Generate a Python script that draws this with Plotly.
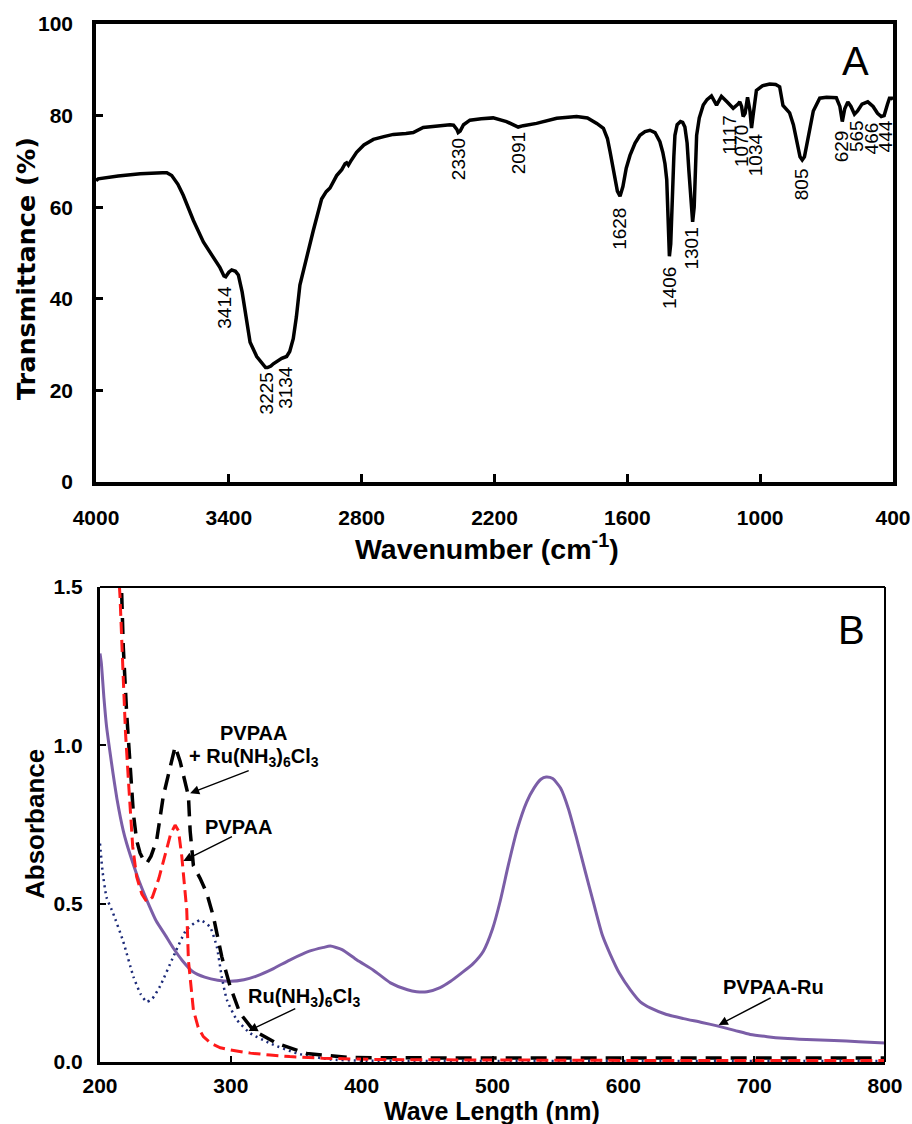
import plotly.graph_objects as go

# ---------------- Panel A: FTIR ----------------
ir_wavenumber = [4000, 3990, 3900, 3800, 3700, 3680, 3658, 3630, 3606, 3580, 3560, 3515, 3470, 3440, 3422, 3414,
                 3400, 3387, 3370, 3357, 3340, 3327, 3304, 3274, 3250, 3234, 3225, 3210, 3199, 3180, 3161, 3139,
                 3125, 3109, 3095, 3079, 3049, 3019, 2981, 2960, 2943, 2913, 2890, 2875, 2868, 2860, 2850, 2823,
                 2790, 2747, 2700, 2657, 2600, 2567, 2522, 2470, 2401, 2385, 2370, 2364, 2355, 2340, 2311, 2260,
                 2206, 2146, 2110, 2093, 2070, 2010, 1919, 1829, 1780, 1738, 1708, 1690, 1678, 1660, 1645, 1633,
                 1620, 1605, 1588, 1565, 1543, 1520, 1498, 1475, 1453, 1440, 1430, 1422, 1415, 1410, 1404, 1398,
                 1390, 1385, 1375, 1360, 1350, 1340, 1330, 1322, 1312, 1305, 1298, 1292, 1287, 1275, 1257, 1240,
                 1220, 1197, 1175, 1150, 1122, 1100, 1092, 1084, 1077, 1068, 1057, 1046, 1039, 1032, 1017, 990,
                 957, 930, 912, 897, 885, 867, 850, 836, 820, 810, 800, 790, 776, 760, 731, 700, 656, 640, 629,
                 618, 604, 590, 574, 560, 540, 514, 490, 470, 453, 440, 425, 416, 405, 400]
ir_transmittance = [65.8, 66.2, 66.8, 67.3, 67.5, 67.5, 66.9, 65.0, 62.6, 59.5, 57.1, 52.4, 49.0, 46.8, 45.0, 44.8,
                    45.8, 46.3, 46.0, 45.2, 41.5, 37.6, 30.5, 27.4, 26.0, 25.0, 25.0, 25.3, 25.8, 26.5, 27.0, 27.4,
                    28.5, 31.3, 36.0, 43.0, 49.3, 54.8, 61.8, 63.4, 64.2, 66.9, 68.2, 69.5, 69.7, 69.2, 70.0, 72.0,
                    73.6, 74.8, 75.4, 75.9, 76.1, 76.3, 77.4, 77.7, 78.0, 77.9, 77.0, 76.3, 76.6, 78.0, 79.0, 79.3,
                    79.5, 78.7, 77.8, 77.5, 77.8, 78.3, 79.4, 79.8, 79.5, 78.3, 77.2, 75.0, 72.1, 67.0, 63.5, 62.4,
                    64.5, 68.5, 71.3, 74.0, 75.7, 76.5, 76.8, 76.3, 74.3, 72.0, 69.5, 66.0, 58.0, 49.3, 52.0, 62.0,
                    71.0, 75.7, 78.0, 78.7, 78.5, 77.5, 74.0, 68.0, 60.0, 56.8, 60.0, 68.0, 75.7, 79.5, 82.3, 83.5,
                    84.3, 82.3, 84.2, 83.0, 81.6, 82.5, 83.0, 82.0, 79.8, 80.5, 84.0, 81.0, 77.3, 80.0, 85.5, 86.5,
                    86.9, 86.8, 86.3, 82.2, 81.6, 80.6, 78.0, 74.4, 71.0, 70.3, 71.0, 73.5, 77.5, 81.0, 83.8, 84.0,
                    83.9, 82.0, 78.7, 81.5, 83.0, 82.0, 80.3, 81.0, 82.5, 83.0, 82.0, 80.5, 79.8, 80.0, 82.5, 83.8,
                    83.8, 83.5]
ir_xticks = [4000, 3400, 2800, 2200, 1600, 1000, 400]
ir_yticks = [0, 20, 40, 60, 80, 100]

# peak labels: text, x position (cm-1), y position of label top (%T)
peak_labels = ["3414", "3225", "3134", "2330", "2091", "1628", "1406", "1301", "1117", "1070", "1034",
               "805", "629", "565", "466", "444"]
peak_label_x = [3417, 3229, 3142, 2365, 2094, 1633, 1407, 1310, 1137, 1084, 1023, 812, 631, 564, 496, 436]
peak_label_y = [43.2, 24.3, 25.9, 75.5, 76.8, 60.3, 47.4, 55.9, 80.5, 78.3, 76.5, 68.9, 77.2, 79.4, 78.9, 79.4]

# ---------------- Panel B: UV-vis ----------------
ru_pvpaa_wl = [200, 201, 203, 205, 207.6, 210, 213, 217.8, 220.4, 225, 230, 238, 243, 250, 256, 263, 271, 280, 290,
               299.5, 310, 320, 332.6, 345, 360, 371, 376, 385, 396.4, 409, 422, 435, 442, 450, 460, 468, 476, 485,
               493, 500, 506, 512, 519, 526, 531.7, 537, 541, 546, 552, 558, 564.7, 571, 577.4, 584, 590, 597,
               605.5, 613, 621, 633, 646, 660, 671.7, 685, 697, 710, 722.6, 740, 761, 780, 800]
ru_pvpaa_abs = [1.29, 1.26, 1.15, 1.06, 0.98, 0.91, 0.83, 0.73, 0.69, 0.63, 0.57, 0.49, 0.445, 0.40, 0.36, 0.32,
                0.285, 0.268, 0.258, 0.255, 0.26, 0.272, 0.295, 0.322, 0.35, 0.362, 0.366, 0.355, 0.322, 0.29, 0.25,
                0.228, 0.222, 0.222, 0.235, 0.255, 0.28, 0.31, 0.35, 0.42, 0.51, 0.62, 0.736, 0.82, 0.865, 0.893,
                0.90, 0.895, 0.865, 0.80, 0.70, 0.60, 0.50, 0.40, 0.34, 0.28, 0.227, 0.19, 0.17, 0.15, 0.137, 0.125,
                0.114, 0.10, 0.087, 0.08, 0.075, 0.071, 0.068, 0.064, 0.06]

mix_wl = [216, 217.8, 220.4, 223, 225.5, 228, 230.6, 233, 235.7, 239, 243.3, 248.4, 253.5, 257.4, 261.2, 265,
          267.6, 268.9, 271.4, 276.5, 281.6, 286.7, 293.1, 299.5, 307, 317.3, 335, 358, 391, 450, 550, 650, 800]
mix_abs = [1.56, 1.31, 1.10, 0.94, 0.785, 0.70, 0.66, 0.64, 0.627, 0.65, 0.70, 0.84, 0.93, 0.996, 0.95, 0.89,
           0.84, 0.73, 0.62, 0.58, 0.533, 0.459, 0.332, 0.238, 0.154, 0.10, 0.059, 0.027, 0.014, 0.013, 0.013,
           0.013, 0.013]

pvpaa_wl = [214, 215.3, 217.8, 219.5, 221.7, 225, 228, 232, 235.7, 240, 245, 250, 254, 257.4, 260, 262.5, 264.5,
            266.3, 267.6, 269.5, 271.4, 275, 279, 285, 292, 299.5, 315, 330, 345, 370, 409, 450, 500, 600, 700, 800]
pvpaa_abs = [1.56, 1.47, 1.21, 1.04, 0.89, 0.68, 0.585, 0.53, 0.506, 0.52, 0.58, 0.66, 0.72, 0.748, 0.73, 0.65,
             0.56, 0.48, 0.32, 0.23, 0.164, 0.11, 0.08, 0.058, 0.045, 0.038, 0.028, 0.022, 0.017, 0.012, 0.008,
             0.007, 0.006, 0.005, 0.005, 0.005]

ru_wl = [200, 202, 205, 210, 217.8, 225.5, 231, 235.7, 240, 246, 256, 266, 276.5, 284, 289.3, 293, 297, 304.6,
         314.8, 330, 350.5, 376, 400, 500, 600, 700, 800]
ru_abs = [0.69, 0.60, 0.52, 0.47, 0.38, 0.27, 0.215, 0.19, 0.20, 0.24, 0.332, 0.417, 0.448, 0.427, 0.364, 0.27,
          0.196, 0.133, 0.091, 0.059, 0.027, 0.008, 0.004, 0.003, 0.003, 0.003, 0.003]

uv_xticks = [200, 300, 400, 500, 600, 700, 800]
uv_yticks = [0.0, 0.5, 1.0, 1.5]

W, H = 912, 1124


def px(x):
    return x / W


def py(y):
    return 1 - y / H


A_x = [px(96), px(893)]
A_y = [py(482), py(24)]
B_x = [px(100), px(885)]
B_y = [py(1062), py(587)]

fig = go.Figure()

fig.add_trace(go.Scatter(x=ir_wavenumber, y=ir_transmittance, mode="lines",
                         line=dict(color="black", width=3.5), xaxis="x", yaxis="y", showlegend=False))

fig.add_trace(go.Scatter(x=ru_pvpaa_wl, y=ru_pvpaa_abs, mode="lines", name="PVPAA-Ru",
                         line=dict(color="#7b5ea7", width=3, shape="spline", smoothing=0.6),
                         xaxis="x2", yaxis="y2", showlegend=False))
fig.add_trace(go.Scatter(x=ru_wl, y=ru_abs, mode="lines", name="Ru(NH3)6Cl3",
                         line=dict(color="#1c2a78", width=2.5, dash="2px,4px", shape="spline", smoothing=0.5),
                         xaxis="x2", yaxis="y2", showlegend=False))
fig.add_trace(go.Scatter(x=mix_wl, y=mix_abs, mode="lines", name="PVPAA + Ru(NH3)6Cl3",
                         line=dict(color="black", width=3.5, dash="16px,9px"), xaxis="x2", yaxis="y2", showlegend=False))
fig.add_trace(go.Scatter(x=pvpaa_wl, y=pvpaa_abs, mode="lines", name="PVPAA",
                         line=dict(color="#ff1a1a", width=3, dash="12px,6px"), xaxis="x2", yaxis="y2", showlegend=False))

tickA = dict(family="Arial, Liberation Sans", size=21, color="black", weight="bold")
tickB = dict(family="Arial, Liberation Sans", size=21, color="black", weight="bold")

fig.update_layout(
    width=W, height=H, margin=dict(l=0, r=0, t=0, b=0, autoexpand=False),
    paper_bgcolor="white", plot_bgcolor="white", showlegend=False,
    xaxis=dict(domain=A_x, anchor="y", range=[4000, 400], tickvals=ir_xticks, ticks="inside", ticklen=8,
               tickwidth=2.5, tickcolor="black", showline=True, linewidth=3.5, linecolor="black", mirror=True,
               showgrid=False, zeroline=False, tickfont=tickA, ticklabelstandoff=14, automargin=False),
    yaxis=dict(domain=A_y, anchor="x", range=[0, 100], tickvals=ir_yticks, ticks="inside", ticklen=7,
               tickwidth=2.5, tickcolor="black", showline=True, linewidth=3.5, linecolor="black", mirror=True,
               showgrid=False, zeroline=False, tickfont=tickA, ticklabelstandoff=15, automargin=False),
    xaxis2=dict(domain=B_x, anchor="y2", range=[200, 800], tickvals=uv_xticks, ticks="inside", ticklen=6,
                tickwidth=2, tickcolor="black", showline=True, linewidth=3, linecolor="black",
                showgrid=False, zeroline=False, tickfont=tickB, ticklabelstandoff=3, automargin=False),
    yaxis2=dict(domain=B_y, anchor="x2", range=[0, 1.5], tickvals=uv_yticks, tickformat=".1f", ticks="inside",
                ticklen=6, tickwidth=2, tickcolor="black", showline=True, linewidth=3, linecolor="black",
                showgrid=False, zeroline=False, tickfont=tickB, ticklabelstandoff=10, automargin=False),
)

# panel B thin top/right frame
fig.add_shape(type="line", xref="x2 domain", yref="y2 domain", x0=0, x1=1, y0=1, y1=1,
              line=dict(color="black", width=2))
fig.add_shape(type="line", xref="x2 domain", yref="y2 domain", x0=1, x1=1, y0=0, y1=1,
              line=dict(color="black", width=2))

ann = []
# axis titles
ann.append(dict(text="<b>Transmittance (%)</b>", xref="paper", yref="paper", x=px(26), y=py(269),
                textangle=-90, showarrow=False, xanchor="center", yanchor="middle",
                font=dict(family="DejaVu Sans", size=25.5, color="black")))
ann.append(dict(text="<b>Wavenumber (cm<sup>-1</sup>)</b>", xref="paper", yref="paper", x=px(487), y=py(547),
                showarrow=False, xanchor="center", yanchor="middle",
                font=dict(family="Arial, Liberation Sans", size=28.5, color="black")))
ann.append(dict(text="<b>Absorbance</b>", xref="paper", yref="paper", x=px(35), y=py(824),
                textangle=-90, showarrow=False, xanchor="center", yanchor="middle",
                font=dict(family="Arial, Liberation Sans", size=26, color="black")))
ann.append(dict(text="<b>Wave Length (nm)</b>", xref="paper", yref="paper", x=px(492), y=py(1111),
                showarrow=False, xanchor="center", yanchor="middle",
                font=dict(family="Arial, Liberation Sans", size=25, color="black")))
# panel letters
ann.append(dict(text="A", xref="paper", yref="paper", x=px(855), y=py(61), showarrow=False,
                xanchor="center", yanchor="middle", font=dict(family="Arial, Liberation Sans", size=40, color="black")))
ann.append(dict(text="B", xref="paper", yref="paper", x=px(851), y=py(630), showarrow=False,
                xanchor="center", yanchor="middle", font=dict(family="Arial, Liberation Sans", size=40, color="black")))

# IR peak labels
for t, lx, ly in zip(peak_labels, peak_label_x, peak_label_y):
    ann.append(dict(text=t, x=lx, y=ly, xref="x", yref="y", textangle=-90, showarrow=False,
                    xanchor="center", yanchor="top", font=dict(family="Arial, Liberation Sans", size=19, color="black")))

# UV labels
lblfont = dict(family="Arial, Liberation Sans", size=20, color="black")
ann.append(dict(text="<b>PVPAA</b>", x=317, y=1.039, xref="x2", yref="y2", showarrow=False, font=lblfont))
ann.append(dict(text="<b>+ Ru(NH<sub>3</sub>)<sub>6</sub>Cl<sub>3</sub></b>", x=317.4, y=0.963, xref="x2", yref="y2",
                showarrow=False, font=lblfont))
ann.append(dict(text="<b>PVPAA</b>", x=305.6, y=0.742, xref="x2", yref="y2", showarrow=False, font=lblfont))
ann.append(dict(text="<b>Ru(NH<sub>3</sub>)<sub>6</sub>Cl<sub>3</sub></b>", x=356, y=0.205, xref="x2", yref="y2",
                showarrow=False, font=lblfont))
ann.append(dict(text="<b>PVPAA-Ru</b>", x=714.5, y=0.238, xref="x2", yref="y2", showarrow=False, font=lblfont))

# arrows: tip (x, y) and tail (ax, ay)
arrow_tips = [(268.9, 0.849), (263.7, 0.635), (313.5, 0.098), (672.9, 0.117)]
arrow_tails = [(314.8, 0.922), (302, 0.714), (350.4, 0.171), (713.8, 0.205)]
for (tx, ty), (sx, sy) in zip(arrow_tips, arrow_tails):
    ann.append(dict(text="", x=tx, y=ty, ax=sx, ay=sy, xref="x2", yref="y2", axref="x2", ayref="y2",
                    showarrow=True, arrowhead=2, arrowsize=1.3, arrowwidth=1.4, arrowcolor="black"))

fig.update_layout(annotations=ann)

# remove the default 8px page margin so the 912x1124 figure fills the window exactly
fig.write_html("out.html", config={"displayModeBar": False},
               post_script="document.body.style.margin='0px';document.body.style.overflow='hidden';")
